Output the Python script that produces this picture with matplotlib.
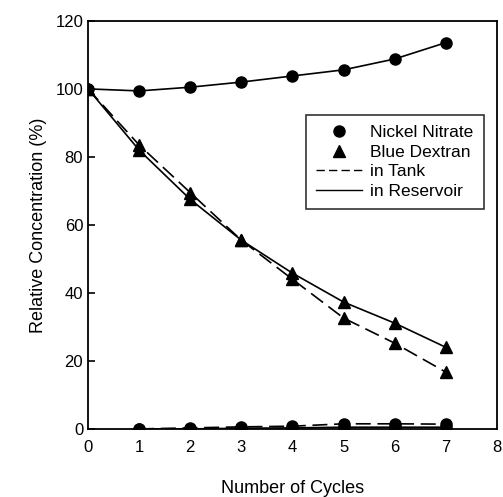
import numpy as np
import matplotlib.pyplot as plt
from matplotlib.lines import Line2D

plt.rcParams['font.family'] = ['Liberation Sans', 'DejaVu Sans']

cycles = [0, 1, 2, 3, 4, 5, 6, 7]
ni_top = [100, 99.4, 100.5, 102, 103.8, 105.6, 108.8, 113.6]
bd_tank = [100, 83.5, 69.5, 55.5, 44, 32.6, 25.2, 16.7]
bd_res = [100, 82, 67.5, 55.5, 45.8, 37.3, 31.1, 24]
cyc_low = [1, 2, 3, 4, 5, 6, 7]
ni_tank_low = [0, 0.3, 0.6, 0.8, 1.5, 1.5, 1.4]
ni_res_low = [0, 0, 0.2, 0.3, 0.5, 0.5, 0.5]

fig = plt.figure(figsize=(5.03, 4.97), dpi=100)
ax = fig.add_axes([0.175, 0.137, 0.813, 0.821])

ms = 8
ax.plot(cycles, ni_top, '-', color='black', lw=1.2, marker='o', ms=ms)
ax.plot(cycles, bd_tank, color='black', lw=1.2, dashes=(9, 4), marker='^', ms=ms)
ax.plot(cycles, bd_res, '-', color='black', lw=1.2, marker='^', ms=ms)
ax.plot(cyc_low, ni_tank_low, color='black', lw=1.2, dashes=(9, 4), marker='o', ms=ms)
ax.plot(cyc_low, ni_res_low, '-', color='black', lw=1.2, marker='o', ms=ms)

ax.set_xlim(0, 8)
ax.set_ylim(0, 120)
ax.set_xticks(range(0, 9))
ax.set_yticks(range(0, 121, 20))
for s in ax.spines.values():
    s.set_linewidth(1.3)
ax.tick_params(axis='x', length=0, labelsize=12, pad=8)
ax.tick_params(axis='y', direction='in', length=5, width=1.2, labelsize=12)
ax.set_xlabel('Number of Cycles', fontsize=13, labelpad=18)
ax.set_ylabel('Relative Concentration (%)', fontsize=13, labelpad=6)

handles = [
    Line2D([], [], ls='none', marker='o', color='black', ms=ms),
    Line2D([], [], ls='none', marker='^', color='black', ms=ms),
    Line2D([], [], color='black', lw=1, dashes=(6, 3)),
    Line2D([], [], color='black', lw=1),
]
labels = ['Nickel Nitrate', 'Blue Dextran', 'in Tank', 'in Reservoir']
leg = ax.legend(handles, labels, loc='upper left', bbox_to_anchor=(0.533, 0.77),
                fontsize=12.5, frameon=True, fancybox=False, edgecolor='black',
                handlelength=2.6, handletextpad=0.5, borderpad=0.6, labelspacing=0.25,
                borderaxespad=0)
leg.get_frame().set_linewidth(1.2)

fig.savefig('out.png', dpi=100)
